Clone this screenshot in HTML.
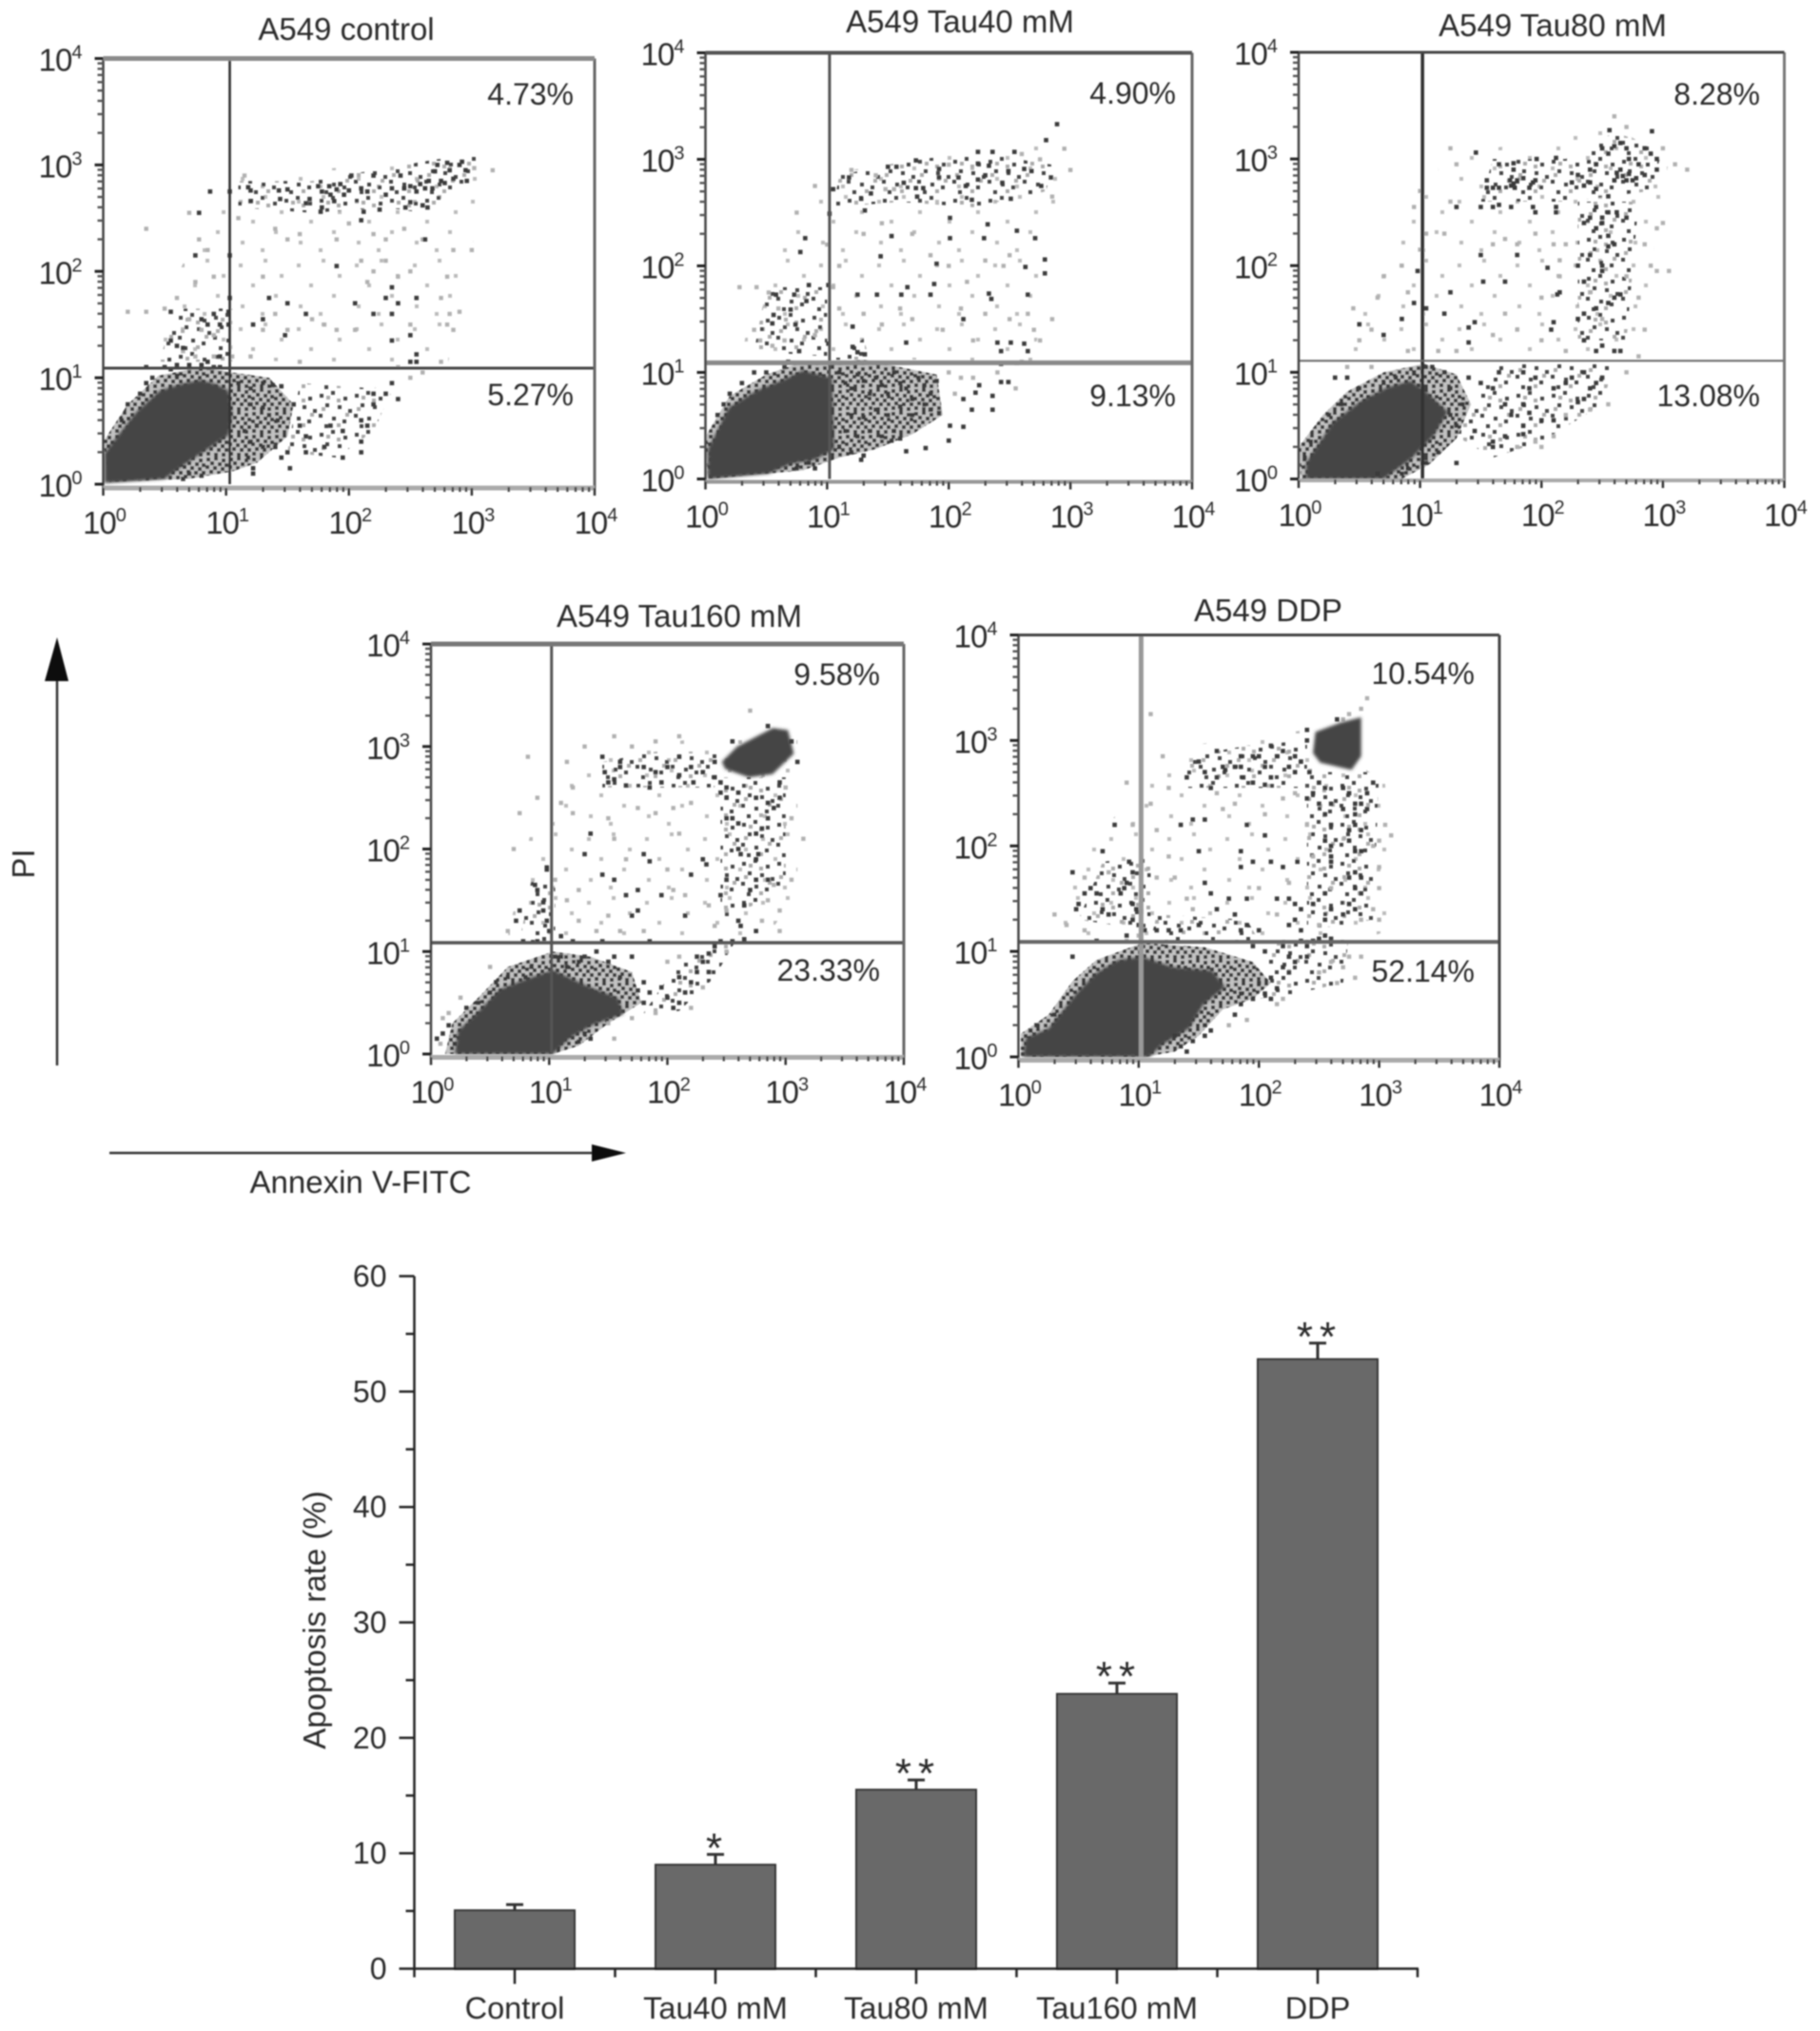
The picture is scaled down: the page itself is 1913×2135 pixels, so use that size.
<!DOCTYPE html>
<html lang="en">
<head>
<meta charset="utf-8">
<title>A549 apoptosis flow cytometry and apoptosis rate</title>
<style>
html,body{margin:0;padding:0;background:#fff;}
svg{display:block;}
text{font-family:"Liberation Sans",Arial,sans-serif;fill:#2b2b2b;}
</style>
</head>
<body>
<svg id="figure" xmlns="http://www.w3.org/2000/svg" width="1913" height="2135" viewBox="0 0 1913 2135">
<defs>
<filter id="soft" x="0" y="0" width="100%" height="100%"><feGaussianBlur stdDeviation="0.7"/></filter>
<filter id="coreEdge" x="-20%" y="-20%" width="140%" height="140%"><feGaussianBlur stdDeviation="1.6"/></filter>
<pattern id="speckleDense" patternUnits="userSpaceOnUse" width="24" height="24">
<rect width="24" height="24" fill="#c2c2c2"/>
<g fill="#3c3c3c"><rect x="1" y="1" width="4" height="4"/><rect x="9" y="0" width="4" height="4"/><rect x="17" y="2" width="4" height="4"/><rect x="5" y="5" width="4" height="4"/><rect x="13" y="6" width="4" height="4"/><rect x="20" y="7" width="4" height="4"/><rect x="0" y="9" width="4" height="4"/><rect x="8" y="10" width="4" height="4"/><rect x="16" y="11" width="4" height="4"/><rect x="4" y="14" width="4" height="4"/><rect x="12" y="15" width="4" height="4"/><rect x="20" y="15" width="4" height="4"/><rect x="1" y="19" width="4" height="4"/><rect x="9" y="20" width="4" height="4"/><rect x="17" y="20" width="4" height="4"/></g>
</pattern>
<pattern id="speckleBand" patternUnits="userSpaceOnUse" width="37" height="41">
<g fill="#454545"><rect x="3" y="4" width="4" height="4"/><rect x="15" y="1" width="4" height="4"/><rect x="28" y="7" width="4" height="4"/><rect x="9" y="14" width="4" height="4"/><rect x="22" y="16" width="4" height="4"/><rect x="33" y="20" width="4" height="4"/><rect x="2" y="25" width="4" height="4"/><rect x="16" y="28" width="4" height="4"/><rect x="27" y="31" width="4" height="4"/><rect x="8" y="36" width="4" height="4"/></g>
<g fill="#aaa"><rect x="10" y="6" width="4" height="4"/><rect x="30" y="24" width="4" height="4"/><rect x="5" y="18" width="4" height="4"/><rect x="21" y="9" width="4" height="4"/><rect x="21" y="35" width="4" height="4"/></g>
</pattern>
<pattern id="speckleSparse" patternUnits="userSpaceOnUse" width="61" height="67">
<g fill="#bbb"><rect x="7" y="9" width="4" height="4"/><rect x="33" y="4" width="4" height="4"/><rect x="50" y="20" width="4" height="4"/><rect x="20" y="30" width="4" height="4"/><rect x="44" y="41" width="4" height="4"/><rect x="9" y="52" width="4" height="4"/><rect x="30" y="60" width="4" height="4"/></g>
</pattern>
</defs>
<rect x="0" y="0" width="1913" height="2135" fill="#fff"/>
<g id="root" filter="url(#soft)">

<g id="panel-1">
<text x="364" y="42" font-size="33" text-anchor="middle">A549 control</text>
<text x="603" y="110" font-size="32" text-anchor="end">4.73%</text>
<text x="603" y="426" font-size="32" text-anchor="end">5.27%</text>
</g>
<g id="panel-2">
<text x="1009" y="34" font-size="33" text-anchor="middle">A549 Tau40 mM</text>
<text x="1236" y="109" font-size="32" text-anchor="end">4.90%</text>
<text x="1236" y="427" font-size="32" text-anchor="end">9.13%</text>
</g>
<g id="panel-3">
<text x="1632" y="38" font-size="33" text-anchor="middle">A549 Tau80 mM</text>
<text x="1850" y="110" font-size="32" text-anchor="end">8.28%</text>
<text x="1850" y="427" font-size="32" text-anchor="end">13.08%</text>
</g>
<g id="panel-4">
<text x="714" y="659" font-size="33" text-anchor="middle">A549 Tau160 mM</text>
<text x="925" y="720" font-size="32" text-anchor="end">9.58%</text>
<text x="925" y="1031" font-size="32" text-anchor="end">23.33%</text>
</g>
<g id="panel-5">
<text x="1333" y="653" font-size="33" text-anchor="middle">A549 DDP</text>
<text x="1550" y="719" font-size="32" text-anchor="end">10.54%</text>
<text x="1550" y="1032" font-size="32" text-anchor="end">52.14%</text>
</g>

<g>
<line x1="60" y1="1120" x2="60" y2="700" stroke="#333" stroke-width="2.5"/>
<polygon points="60,670 47,716 72,716" fill="#111"/>
</g>
<text font-size="33" text-anchor="middle" transform="translate(36 908) rotate(-90)">PI</text>
<g>
<line x1="115" y1="1212" x2="630" y2="1212" stroke="#333" stroke-width="2.5"/>
<polygon points="658,1212 622,1203 622,1221" fill="#111"/>
</g>
<text x="379" y="1254" font-size="33" text-anchor="middle">Annexin V-FITC</text>

<g id="bar-chart">
<text font-size="33" text-anchor="middle" transform="translate(342 1703) rotate(-90)">Apoptosis rate (%)</text>
</g>
</g>
</svg>

<script>
/* ---------- scatter data: [log10 Annexin V, log10 PI] ---------- */
const decadeValues = [0, 1, 2, 3, 4];
const minorMultipliers = [2, 3, 4, 5, 6, 7, 8, 9];

const panel1Gate = [1.03, 1.09];
const panel1Wide = [[0.3,1.2],[2.8,1.1],[3.0,2.2],[3.1,3.0],[2.2,3.0],[1.1,2.9],[0.7,2.2]];
const panel1Bands = [[[1.1,2.6],[1.7,2.55],[2.3,2.6],[2.6,2.55],[3.0,2.8],[3.05,3.1],[2.7,3.05],[2.2,2.95],[1.7,2.85],[1.1,2.85]],[[0.45,1.15],[1.05,1.15],[1.05,1.65],[0.6,1.65]],[[1.5,0.3],[1.6,0.95],[2.2,0.9],[2.4,1.0],[2.2,0.5],[1.9,0.25]]];
const panel1Halo = [[0.05,0.02],[0.0,0.4],[0.2,0.75],[0.45,1.02],[0.8,1.1],[1.05,1.05],[1.35,1.0],[1.55,0.75],[1.5,0.45],[1.25,0.2],[1.05,0.12],[0.7,0.05]];
const panel1Core = [[[0.01,0.29],[0.14,0.49],[0.27,0.68],[0.46,0.88],[0.63,0.94],[0.79,0.98],[0.92,0.94],[1.02,0.88],[1.05,0.65],[1.02,0.46],[0.89,0.36],[0.76,0.26],[0.63,0.16],[0.5,0.05],[0.01,0.01]]];
const panel1Dark = [[1.18,2.79],[1.2,2.76],[1.2,2.66],[1.43,2.76],[1.5,2.77],[1.44,2.68],[1.65,2.64],[1.68,2.68],[1.75,2.8],[1.78,2.75],[1.84,2.8],[1.85,2.72],[1.88,2.66],[1.9,2.77],[1.93,2.82],[1.96,2.72],[2.0,2.76],[2.02,2.9],[2.1,2.78],[2.15,2.75],[2.2,2.9],[2.3,2.72],[2.25,2.58],[2.12,2.56],[2.1,2.48],[1.78,2.6],[1.77,2.56],[2.35,2.78],[2.42,2.9],[2.45,2.78],[2.5,2.8],[2.55,2.75],[2.58,2.82],[2.62,2.78],[2.65,2.85],[2.68,2.78],[2.7,2.94],[2.72,3.0],[2.75,2.85],[2.78,2.83],[2.8,3.02],[2.82,2.95],[2.85,2.87],[2.9,3.0],[2.92,3.03],[2.95,2.95],[2.96,2.85],[2.5,2.65],[2.6,2.62],[2.64,2.6],[2.62,2.3],[2.46,2.6],[1.1,0.95],[1.2,0.9],[1.3,0.95],[1.38,0.93],[1.45,0.92],[1.2,0.75],[1.3,0.72],[1.35,0.65],[1.42,0.6],[1.25,0.55],[1.15,0.5],[1.2,0.4],[1.3,0.35],[1.4,0.35],[1.45,0.25],[1.5,0.3],[1.52,0.15],[1.18,0.25],[1.22,0.15],[1.22,0.1],[0.7,0.1],[0.8,0.08],[0.65,0.05],[0.55,1.08],[0.6,1.02],[0.4,1.0],[0.35,0.95],[0.3,0.85],[0.2,0.75],[0.15,0.6],[1.55,0.75],[1.6,0.55],[1.65,0.45],[1.65,0.3],[1.8,0.35],[1.85,0.55],[1.95,0.5],[1.95,0.25],[2.1,0.4],[2.1,0.6],[2.15,0.55],[2.2,0.75],[2.2,0.85],[2.3,0.85],[2.35,0.95],[2.4,0.8],[2.1,0.3],[0.35,1.1],[0.5,1.1],[0.6,1.12],[0.7,1.12],[0.8,1.12],[0.9,1.1],[0.95,1.1],[0.8,1.55],[0.85,1.5],[0.95,1.5],[1.02,1.5],[1.02,1.62],[1.03,1.75],[1.03,2.15],[1.03,2.75],[0.87,2.75],[0.78,2.55],[0.75,2.15],[0.55,1.35],[0.6,1.3],[0.65,1.28],[0.9,1.6],[0.55,1.62],[0.85,1.15],[0.95,1.2],[1.35,1.75],[1.9,2.05],[2.05,1.7],[2.35,1.6],[2.3,1.75],[2.35,1.85],[2.4,1.7],[2.55,1.75],[2.5,1.15],[2.55,1.15],[2.55,1.22],[2.35,1.35],[2.5,1.4],[1.65,1.6],[2.2,1.6],[1.5,1.7],[1.48,1.4],[1.22,1.5],[1.3,1.55]];
const panel1Light = [[0.7,2.55],[1.15,2.9],[0.35,2.4],[0.78,2.3],[0.85,2.2],[0.9,1.95],[0.75,1.9],[1.3,1.95],[1.1,2.5],[1.4,2.4],[1.5,2.3],[1.6,2.35],[1.9,2.3],[2.0,2.45],[2.2,2.35],[2.3,2.3],[2.45,2.4],[2.6,2.3],[2.5,2.0],[2.2,2.0],[2.1,2.1],[2.3,2.1],[2.15,1.9],[2.4,1.95],[2.85,2.2],[3.0,2.2],[2.8,1.95],[2.75,1.75],[2.82,1.6],[2.9,1.62],[2.8,1.5],[2.85,1.45],[2.5,1.5],[1.7,1.55],[1.4,1.6],[1.3,1.45],[1.5,1.45],[1.9,1.45],[2.05,1.45],[1.8,1.5],[0.2,1.62],[0.35,1.62],[0.5,1.65],[0.6,1.75],[0.7,1.55],[0.8,1.45],[0.9,1.4],[0.55,1.35],[0.65,1.25],[0.75,1.2],[0.9,1.2],[1.05,1.2],[1.2,1.2],[1.6,1.15],[2.4,1.1],[2.6,1.05],[2.5,1.0],[2.75,1.15],[3.02,2.97],[3.17,2.95]];

const panel2Gate = [1.02, 1.09];
const panel2Wide = [[0.3,1.15],[0.4,1.8],[0.9,2.6],[1.2,2.9],[2.0,3.05],[2.9,3.15],[2.9,2.6],[2.75,1.5],[2.7,1.1]];
const panel2Bands = [[[1.05,2.55],[1.6,2.6],[2.2,2.55],[2.8,2.7],[2.85,2.95],[2.3,3.05],[1.7,3.0],[1.1,2.85]],[[0.4,1.2],[1.0,1.15],[1.0,1.8],[0.5,1.8]],[[1.05,1.12],[1.3,1.32],[1.35,1.12]]];
const panel2Halo = [[1.04,1.1],[1.3,1.12],[1.9,0.98],[1.95,0.6],[1.7,0.42],[1.4,0.28],[1.1,0.2],[0.8,0.08],[0.02,0.0],[0.0,0.4],[0.2,0.78],[0.5,0.98],[0.75,1.08]];
const panel2Core = [[[0.02,0.28],[0.19,0.67],[0.42,0.83],[0.64,0.93],[0.8,1.02],[0.93,0.98],[1.04,0.95],[1.06,0.28],[0.9,0.18],[0.7,0.14],[0.52,0.05],[0.02,0.0]]];
const panel2Dark = [[2.89,3.33],[2.8,3.18],[2.24,3.07],[2.36,3.07],[2.54,3.07],[1.73,2.99],[1.5,2.93],[1.57,2.93],[1.92,2.91],[2.24,2.96],[2.33,2.94],[2.49,2.89],[2.62,2.91],[2.68,2.89],[2.84,2.83],[1.63,2.78],[1.73,2.73],[1.79,2.73],[1.74,2.65],[1.92,2.83],[2.08,2.83],[2.14,2.75],[2.19,2.62],[2.24,2.81],[2.3,2.85],[2.44,2.78],[2.51,2.63],[2.76,2.75],[1.05,2.72],[1.28,2.63],[1.36,2.68],[1.18,2.83],[1.02,2.49],[1.31,2.52],[2.01,2.45],[2.32,2.39],[2.56,2.33],[1.53,2.28],[2.01,2.26],[2.29,2.26],[2.71,2.26],[1.44,2.09],[0.82,2.26],[0.78,2.13],[1.9,2.02],[2.63,1.99],[2.79,2.06],[2.79,1.93],[0.58,1.73],[0.73,1.73],[0.85,1.82],[0.83,1.67],[1.01,1.82],[1.25,1.73],[1.41,1.73],[1.61,1.73],[1.85,1.73],[1.66,1.8],[1.88,1.83],[2.33,1.74],[2.35,1.69],[2.65,1.73],[0.7,1.59],[0.56,1.54],[0.55,1.46],[0.74,1.45],[2.12,1.5],[2.4,1.28],[2.51,1.28],[2.62,1.27],[2.43,1.2],[2.65,1.2],[1.65,1.28],[1.21,1.43],[1.01,1.27],[1.25,1.19],[1.31,1.17],[1.21,1.24],[0.77,1.2],[2.43,1.08],[2.56,1.09],[2.43,0.91],[2.49,0.91],[2.25,0.88],[2.36,0.78],[2.22,0.81],[2.12,0.75],[2.36,0.65],[2.19,0.65],[2.01,0.5],[2.12,0.49],[2.0,0.36],[1.65,0.26],[1.81,0.29],[1.53,0.36],[1.28,0.18],[1.1,1.0],[1.15,0.9],[1.2,0.85],[1.25,0.98],[1.3,0.92],[1.35,0.8],[1.4,0.95],[1.45,0.88],[1.5,0.8],[1.55,1.0],[1.6,0.9],[1.65,0.85],[1.7,0.75],[1.75,0.95],[1.8,0.88],[1.85,0.8],[1.9,0.92],[1.85,0.65],[1.8,0.7],[1.7,0.6],[1.6,0.68],[1.5,0.6],[1.4,0.65],[1.3,0.58],[1.2,0.6],[1.15,0.45],[1.25,0.4],[1.35,0.45],[1.45,0.4],[1.55,0.45],[1.6,0.38],[1.92,0.62],[1.1,0.3],[1.2,0.25],[1.3,0.22],[0.9,0.1],[0.75,0.1],[0.85,0.15],[0.4,1.0],[0.3,0.9],[0.2,0.8],[0.15,0.7],[0.1,0.6],[0.5,1.0],[0.65,1.05],[0.68,1.1]];
const panel2Light = [[0.28,1.8],[0.42,1.8],[0.52,1.75],[0.6,1.6],[0.4,1.4],[0.45,1.3],[0.55,1.25],[0.65,1.3],[0.9,1.35],[1.1,1.6],[1.3,1.55],[1.45,1.45],[1.6,1.6],[1.7,1.5],[1.95,1.4],[2.1,1.6],[2.2,1.3],[2.3,1.55],[2.5,1.5],[2.65,1.55],[2.7,1.4],[2.85,1.5],[2.75,1.3],[1.3,2.3],[1.45,2.4],[1.7,2.3],[1.85,2.1],[2.0,2.0],[2.15,1.85],[2.45,2.0],[2.5,2.1],[2.3,2.05],[1.05,1.8],[1.1,2.0],[1.0,2.2],[0.75,2.5],[0.9,2.75],[1.4,2.85],[1.2,2.9],[1.48,2.72],[1.55,2.72],[2.0,2.95],[2.6,3.05],[2.75,3.0],[2.95,3.1],[3.0,2.9],[2.85,2.65],[2.0,1.0],[2.1,0.95],[2.05,0.8],[2.2,0.95],[2.4,1.0],[2.6,1.1],[2.55,0.85]];

const panel3Gate = [1.02, 1.108];
const panel3Wide = [[0.3,1.15],[0.7,2.0],[1.2,3.0],[1.6,3.1],[2.6,3.3],[3.05,3.0],[2.9,2.0],[2.8,1.15]];
const panel3Bands = [[[1.5,2.6],[2.2,2.6],[2.9,2.7],[3.0,3.1],[2.6,3.25],[2.2,3.0],[1.6,3.0]],[[2.3,1.3],[2.7,1.3],[2.8,2.6],[2.3,2.6]],[[1.3,0.4],[1.6,1.08],[2.6,1.08],[2.5,0.7],[2.0,0.35],[1.6,0.2]]];
const panel3Halo = [[0.02,0.0],[0.0,0.3],[0.2,0.6],[0.4,0.82],[0.7,1.0],[1.03,1.08],[1.3,0.98],[1.42,0.7],[1.3,0.38],[1.08,0.14],[0.85,0.0]];
const panel3Core = [[[0.06,0.15],[0.28,0.53],[0.51,0.73],[0.73,0.86],[0.92,0.92],[1.04,0.83],[1.23,0.63],[1.11,0.4],[0.92,0.18],[0.7,0.0],[0.06,0.0]]];
const panel3Dark = [[1.46,3.06],[1.65,2.95],[1.77,2.96],[1.77,2.9],[1.96,3.0],[2.12,3.01],[2.91,3.26],[2.56,3.27],[1.77,2.77],[1.75,2.75],[1.8,2.8],[1.74,2.8],[1.78,2.73],[1.55,2.73],[1.6,2.73],[1.65,2.73],[1.55,2.8],[1.93,2.78],[1.95,2.8],[1.9,2.73],[1.85,2.82],[2.62,2.87],[2.65,2.9],[2.67,2.84],[2.7,2.8],[2.72,2.86],[2.75,2.8],[2.78,2.82],[2.6,2.8],[2.4,2.9],[2.45,2.95],[2.5,3.1],[2.55,3.05],[2.6,3.12],[2.65,3.15],[2.7,3.1],[2.72,3.0],[2.8,2.95],[2.85,3.1],[2.9,3.05],[2.95,3.0],[2.95,2.9],[2.85,2.85],[2.3,2.85],[2.25,2.78],[2.35,2.75],[2.4,2.78],[2.45,2.72],[2.55,2.65],[1.5,2.55],[1.6,2.55],[1.65,2.57],[1.75,2.55],[1.93,2.55],[1.95,2.5],[2.12,2.55],[2.12,2.5],[1.3,2.55],[2.45,2.55],[2.5,2.45],[2.55,2.5],[2.62,2.5],[2.35,2.4],[2.45,2.35],[2.5,2.4],[2.4,2.45],[2.7,2.45],[2.55,2.28],[2.4,2.1],[2.5,2.0],[2.5,1.95],[2.55,2.18],[2.6,2.2],[2.3,2.0],[2.35,1.85],[2.05,1.98],[1.8,2.1],[1.52,1.85],[1.7,1.85],[1.5,2.1],[1.25,1.75],[1.2,1.55],[0.98,1.95],[2.13,1.73],[2.15,1.75],[2.6,1.7],[2.65,1.73],[2.55,1.65],[2.45,1.6],[2.35,1.55],[2.3,1.5],[1.05,1.6],[1.45,1.47],[1.4,1.42],[2.1,1.47],[2.08,1.4],[2.35,1.3],[2.45,1.2],[2.5,1.25],[2.6,1.2],[2.65,1.2],[1.4,1.28],[0.85,1.5],[0.7,1.35],[0.95,1.65],[0.5,1.45],[1.4,0.95],[1.5,0.9],[1.6,0.85],[1.65,1.0],[1.85,1.0],[1.9,0.85],[1.95,0.95],[2.1,0.85],[2.2,0.9],[2.25,0.95],[2.35,1.0],[2.4,0.85],[2.45,0.9],[2.5,0.95],[2.35,0.75],[2.3,0.72],[1.7,0.7],[1.75,0.6],[1.85,0.7],[1.9,0.62],[2.0,0.55],[1.85,0.5],[2.1,0.55],[1.7,0.4],[1.85,0.42],[1.6,0.35],[1.6,0.3],[1.45,0.45],[1.3,0.5],[1.25,0.6],[1.35,0.7],[1.25,0.85],[1.2,1.0],[1.1,1.05],[0.95,1.0],[0.8,0.95],[0.7,0.9],[0.4,0.95],[0.3,0.95],[0.5,0.85],[0.35,0.7],[0.25,0.6],[0.1,0.35],[0.05,0.2],[1.15,0.25],[1.05,0.15],[1.3,0.15],[0.9,0.1],[0.85,0.05],[0.65,0.05]];
const panel3Light = [[0.45,1.6],[0.5,1.3],[0.6,1.4],[0.65,1.7],[0.7,1.9],[0.85,2.0],[0.9,1.75],[1.0,2.15],[1.05,2.3],[1.2,2.3],[1.25,2.6],[1.0,2.7],[0.95,2.55],[1.3,2.95],[1.25,3.1],[1.6,2.2],[1.7,2.25],[1.8,2.2],[1.95,2.3],[2.1,2.2],[2.15,2.05],[2.15,1.9],[2.2,2.2],[2.4,1.75],[2.7,1.9],[2.9,2.0],[2.95,1.95],[3.05,1.95],[2.95,2.35],[3.0,2.4],[2.85,2.2],[2.8,1.7],[2.85,1.4],[1.6,1.35],[1.7,1.55],[1.8,1.4],[2.0,1.7],[2.0,1.3],[2.2,1.2],[2.5,1.5],[2.8,1.15],[2.7,1.0],[2.55,0.7],[2.4,0.65],[2.2,0.6],[2.1,0.4],[1.95,0.35],[2.0,0.3],[1.8,0.3],[3.1,2.95],[3.2,2.9],[3.0,3.1],[2.7,3.3],[2.6,3.4],[0.6,1.05],[0.4,1.05],[0.9,1.2],[1.15,1.2],[1.3,1.2]];

const panel4Gate = [1.02, 1.086];
const panel4Wide = [[0.65,1.15],[0.85,2.2],[1.4,2.95],[2.4,3.1],[3.1,3.2],[3.1,1.6],[2.85,1.15]];
const panel4Bands = [[[1.45,2.6],[2.4,2.6],[2.45,2.95],[1.9,2.95],[1.45,2.85]],[[2.45,1.3],[3.0,1.6],[3.0,2.7],[2.45,2.7]],[[1.8,0.4],[2.1,0.9],[2.6,1.15],[2.4,0.75],[2.1,0.42]],[[0.75,1.1],[1.05,1.1],[1.05,1.7],[0.85,1.7]]];
const panel4Halo = [[0.12,0.0],[0.18,0.3],[0.4,0.55],[0.65,0.85],[1.03,1.0],[1.35,0.95],[1.7,0.8],[1.78,0.5],[1.5,0.3],[1.25,0.08],[1.03,0.0]];
const panel4Core = [[[0.2,0.0],[0.23,0.23],[0.38,0.39],[0.58,0.63],[0.78,0.72],[1.03,0.82],[1.33,0.66],[1.58,0.55],[1.63,0.39],[1.38,0.29],[1.18,0.16],[1.03,0.0]],[[2.46,2.85],[2.59,3.0],[2.89,3.18],[3.02,3.16],[3.07,2.93],[2.89,2.73],[2.69,2.7],[2.49,2.78]]];
const panel4Dark = [[2.4,2.85],[2.45,2.65],[2.5,2.6],[2.55,3.05],[2.85,3.2],[3.05,3.05],[3.1,2.85],[2.95,2.65],[2.6,2.55],[1.47,2.75],[1.6,2.85],[1.6,2.8],[1.8,2.8],[1.85,2.6],[1.9,2.75],[1.95,2.65],[2.1,2.9],[2.2,2.8],[2.22,2.65],[2.3,2.75],[2.1,2.72],[2.0,2.8],[1.5,2.65],[1.45,2.9],[1.55,2.68],[1.65,2.62],[2.4,2.7],[2.45,2.55],[2.5,2.5],[2.5,2.3],[2.55,2.3],[2.6,2.25],[2.75,2.5],[2.85,2.45],[2.9,2.4],[2.95,2.5],[2.75,2.15],[2.8,2.2],[2.85,2.3],[2.6,2.0],[2.62,1.95],[2.75,1.9],[2.77,1.95],[2.7,1.6],[2.75,1.7],[2.85,1.7],[2.65,1.45],[2.6,1.3],[2.62,1.25],[2.75,1.2],[2.5,1.7],[2.45,1.55],[2.3,1.9],[2.33,1.85],[1.8,1.95],[1.85,1.88],[1.75,1.6],[1.65,1.55],[1.55,1.7],[1.45,1.75],[1.75,1.4],[1.7,1.35],[1.3,1.95],[1.35,2.15],[1.95,1.55],[2.15,1.35],[2.2,1.75],[0.88,1.65],[0.9,1.6],[0.95,1.48],[0.95,1.4],[0.98,1.3],[1.0,1.2],[0.98,1.8],[0.98,1.82],[0.75,1.4],[0.72,1.3],[0.78,1.1],[0.9,1.1],[1.1,1.15],[1.2,1.1],[1.45,1.1],[1.85,1.1],[2.25,0.95],[2.35,0.98],[2.4,1.05],[2.45,1.1],[2.55,1.1],[2.65,1.12],[2.3,0.9],[2.35,0.8],[2.25,0.8],[2.2,0.7],[2.1,0.75],[2.15,0.6],[2.0,0.55],[1.95,0.65],[1.85,0.6],[1.8,0.7],[1.75,0.62],[1.8,0.5],[2.05,0.45],[2.1,0.5],[1.7,0.95],[1.6,0.75],[1.55,0.95],[1.5,0.9],[1.4,1.0],[1.3,0.95],[1.25,0.9],[1.1,0.95],[1.15,0.85],[1.05,0.95],[0.85,0.85],[0.8,0.75],[0.65,0.75],[0.55,0.7],[0.5,0.6],[0.4,0.5],[0.3,0.45],[0.15,0.28],[0.1,0.2],[0.05,0.15],[0.2,0.1],[1.3,0.2],[1.25,0.12],[1.35,0.15]];
const panel4Light = [[0.7,2.0],[0.82,2.9],[0.9,2.5],[0.75,2.35],[1.1,2.45],[1.2,2.35],[1.2,2.6],[1.15,2.85],[1.3,3.0],[1.55,3.1],[1.7,3.0],[1.9,3.05],[2.1,3.1],[1.05,1.7],[1.15,1.5],[1.25,1.6],[1.25,1.3],[1.4,1.2],[1.5,1.35],[1.6,1.2],[1.65,1.9],[1.55,2.1],[1.5,2.3],[1.75,2.4],[1.9,2.35],[2.05,2.4],[2.1,2.15],[2.2,2.45],[2.0,1.8],[2.05,1.6],[2.15,1.55],[2.35,1.45],[2.4,1.25],[2.5,1.4],[2.85,1.5],[2.95,1.4],[2.9,1.65],[3.05,1.7],[3.15,2.1],[3.05,2.3],[3.0,2.6],[2.7,3.35],[2.95,1.2],[2.8,1.3],[2.5,1.0],[2.1,0.95],[2.0,0.9],[2.3,0.65],[2.2,0.45],[1.9,0.4],[1.7,0.35],[1.5,0.3],[1.55,0.15],[0.1,0.35],[0.08,0.1],[0.15,0.4],[0.25,0.55],[0.5,0.85],[0.65,1.2],[1.8,1.2]];

const panel5Gate = [1.02, 1.09];
const panel5Wide = [[0.3,1.15],[0.45,1.9],[1.1,2.6],[1.4,2.95],[2.4,3.1],[3.05,2.6],[3.1,1.2],[2.8,1.1]];
const panel5Bands = [[[1.4,2.55],[2.4,2.55],[2.4,3.0],[1.9,2.95],[1.4,2.85]],[[2.4,1.2],[2.95,1.3],[3.0,2.7],[2.4,2.7]],[[2.0,0.55],[2.1,1.1],[2.75,1.15],[2.7,0.7],[2.3,0.6]],[[0.5,1.3],[1.1,1.2],[1.1,1.9],[0.7,1.85]],[[1.1,1.1],[2.0,1.1],[1.9,1.3],[1.15,1.35]]];
const panel5Halo = [[0.02,0.0],[0.02,0.22],[0.25,0.4],[0.45,0.72],[0.65,0.92],[1.03,1.08],[1.55,1.04],[1.95,0.9],[2.1,0.7],[1.95,0.55],[1.7,0.45],[1.5,0.2],[1.3,0.05],[1.05,0.0]];
const panel5Core = [[[0.04,0.0],[0.06,0.18],[0.25,0.27],[0.48,0.6],[0.64,0.79],[0.83,0.92],[1.03,0.95],[1.29,0.85],[1.61,0.82],[1.72,0.66],[1.54,0.5],[1.42,0.27],[1.19,0.11],[1.09,0.0]],[[2.47,3.08],[2.68,3.17],[2.85,3.22],[2.85,2.85],[2.77,2.72],[2.51,2.79],[2.45,2.88]]];
const panel5Dark = [[2.35,2.8],[2.4,3.0],[2.42,2.7],[2.5,2.6],[2.55,2.55],[2.45,2.5],[2.4,2.45],[2.5,2.4],[2.6,2.4],[2.55,2.3],[2.6,2.2],[2.7,2.55],[2.75,2.5],[2.8,2.4],[2.85,2.4],[2.9,2.5],[2.95,2.6],[2.7,2.35],[2.8,2.3],[2.9,2.35],[2.4,3.1],[2.65,3.2],[1.65,2.9],[1.7,2.75],[1.5,2.8],[1.4,2.65],[1.55,2.7],[1.65,2.65],[1.72,2.72],[1.8,2.75],[1.85,2.75],[1.85,2.85],[1.87,2.65],[1.95,2.85],[2.0,2.85],[2.05,2.75],[2.1,2.65],[2.1,2.95],[2.2,2.9],[2.15,2.85],[2.25,2.75],[2.3,2.7],[2.3,2.85],[1.95,2.6],[2.05,2.58],[1.6,2.55],[2.55,2.05],[2.6,2.0],[2.6,1.9],[2.6,1.85],[2.75,2.15],[2.8,2.2],[2.85,2.15],[2.75,2.05],[2.8,1.95],[2.85,1.95],[2.8,1.75],[2.85,1.7],[2.75,1.7],[2.8,1.6],[2.85,1.55],[2.75,1.45],[2.8,1.4],[2.7,1.35],[2.55,1.55],[2.6,1.4],[2.55,1.3],[2.45,1.45],[2.35,1.4],[2.25,1.5],[2.3,1.45],[2.3,1.3],[2.25,1.25],[2.35,1.2],[2.55,1.15],[1.35,2.2],[1.45,2.25],[1.55,2.25],[1.5,1.95],[1.9,2.2],[2.05,2.1],[1.85,1.95],[1.85,1.8],[1.95,1.85],[2.1,1.85],[2.2,1.8],[2.32,1.85],[1.55,1.65],[1.6,1.55],[1.65,1.4],[1.75,1.5],[1.9,1.5],[1.8,1.35],[2.15,1.5],[1.9,1.25],[2.0,1.2],[1.85,1.2],[1.5,1.25],[1.35,1.2],[1.25,1.2],[1.15,1.2],[1.05,1.2],[1.0,1.25],[0.95,1.3],[0.9,1.15],[0.8,2.2],[0.45,1.75],[0.7,1.95],[0.92,1.85],[0.95,1.75],[0.9,1.65],[0.88,1.6],[0.85,1.55],[0.95,1.45],[0.98,1.4],[1.02,1.38],[0.6,1.6],[0.65,1.55],[0.55,1.55],[0.5,1.45],[0.48,1.4],[0.7,1.4],[0.75,1.35],[0.45,0.95],[0.65,1.1],[1.95,1.05],[2.05,1.0],[2.2,1.05],[2.25,0.95],[2.35,1.1],[2.4,1.05],[2.45,1.1],[2.5,1.12],[2.6,1.12],[2.4,0.95],[2.3,0.9],[2.2,0.85],[2.25,0.8],[2.1,0.75],[2.15,0.65],[2.0,0.7],[2.05,0.6],[1.95,0.55],[1.85,0.6],[2.1,0.55],[1.85,0.5],[1.8,0.4],[1.55,0.3],[1.6,0.25],[1.55,0.2],[1.45,0.15],[1.3,0.2],[1.35,0.1],[1.4,0.05],[0.15,0.3],[0.1,0.25],[0.3,0.4]];
const panel5Light = [[0.55,1.7],[0.3,1.35],[0.4,1.25],[0.55,1.2],[0.75,1.75],[0.95,2.2],[0.9,2.6],[1.1,3.25],[1.2,2.85],[1.25,2.55],[1.1,2.4],[1.15,2.15],[1.25,1.9],[1.15,1.7],[1.3,1.7],[1.4,1.5],[1.45,1.4],[1.65,2.5],[1.7,2.35],[1.8,2.4],[2.05,2.3],[2.2,2.45],[2.3,2.5],[2.4,2.2],[2.0,1.6],[2.15,1.35],[2.25,1.65],[2.45,1.9],[2.6,1.6],[2.5,1.25],[2.95,2.0],[3.0,2.05],[3.1,2.1],[3.05,2.2],[3.0,1.8],[3.0,1.6],[2.95,1.4],[3.0,1.3],[2.85,1.3],[2.7,3.2],[2.75,3.25],[2.85,3.3],[2.9,3.4],[2.65,2.8],[2.6,0.9],[2.7,0.85],[2.8,0.75],[2.75,0.95],[2.85,0.95],[2.65,0.7],[2.5,0.8],[2.2,0.55],[2.15,0.5],[1.9,0.35],[1.75,0.3],[0.9,1.1],[1.0,1.15]];

/* ---------- bar chart data ---------- */
const barCategories = ["Control", "Tau40 mM", "Tau80 mM", "Tau160 mM", "DDP"];
const barValues = [5.1, 9.05, 15.55, 23.85, 52.85];
const barErrorTops = [5.55, 9.9, 16.35, 24.75, 54.2];
const barStars = ["", "*", "**", "**", "**"];
const yTickLabels = [0, 10, 20, 30, 40, 50, 60];

/* ---------- layout ---------- */
const panelFrames = [
  {id:"panel-1", left:108.5, right:625, top:61.5, bottom:513, y0:509, vColor:"#333", vWidth:2.6, hColor:"#444", hWidth:3, topColor:"#8a8a8a", topWidth:5, botColor:"#aaa", botWidth:5, sideColor:"#666"},
  {id:"panel-2", left:741.5, right:1253, top:55.5, bottom:506.5, y0:503.5, vColor:"#555", vWidth:3, hColor:"#8a8a8a", hWidth:5, topColor:"#555", topWidth:4, botColor:"#999", botWidth:4, sideColor:"#666"},
  {id:"panel-3", left:1365, right:1875.5, top:55, bottom:505, y0:503.5, vColor:"#333", vWidth:3.6, hColor:"#666", hWidth:2, topColor:"#444", topWidth:3, botColor:"#aaa", botWidth:4, sideColor:"#777"},
  {id:"panel-4", left:453, right:950, top:677, bottom:1111.5, y0:1108, vColor:"#555", vWidth:3, hColor:"#555", hWidth:3.5, topColor:"#777", topWidth:5, botColor:"#aaa", botWidth:5, sideColor:"#666"},
  {id:"panel-5", left:1070.5, right:1576, top:667.5, bottom:1114.5, y0:1111, vColor:"#999", vWidth:5, hColor:"#666", hWidth:4, topColor:"#444", topWidth:3, botColor:"#aaa", botWidth:5, sideColor:"#444"}
];
const panelDatasets = [
  {gate:panel1Gate, wide:panel1Wide, bands:panel1Bands, halo:panel1Halo, core:panel1Core, dark:panel1Dark, light:panel1Light},
  {gate:panel2Gate, wide:panel2Wide, bands:panel2Bands, halo:panel2Halo, core:panel2Core, dark:panel2Dark, light:panel2Light},
  {gate:panel3Gate, wide:panel3Wide, bands:panel3Bands, halo:panel3Halo, core:panel3Core, dark:panel3Dark, light:panel3Light},
  {gate:panel4Gate, wide:panel4Wide, bands:panel4Bands, halo:panel4Halo, core:panel4Core, dark:panel4Dark, light:panel4Light},
  {gate:panel5Gate, wide:panel5Wide, bands:panel5Bands, halo:panel5Halo, core:panel5Core, dark:panel5Dark, light:panel5Light}
];

const NS = "http://www.w3.org/2000/svg";
function make(parent, tag, geometry) {
  const node = document.createElementNS(NS, tag);
  for (const key in geometry) node.setAttribute(key, geometry[key]);
  parent.appendChild(node);
  return node;
}

function powerLabel(parent, x, y, exponent, anchor) {
  const label = make(parent, "text", {x:x, y:y, "font-size":33, "text-anchor":anchor, "letter-spacing":-1});
  const base = document.createElementNS(NS, "tspan");
  base.textContent = "10";
  label.appendChild(base);
  const sup = document.createElementNS(NS, "tspan");
  sup.setAttribute("dy", -13);
  sup.setAttribute("font-size", 20);
  sup.textContent = String(exponent);
  label.appendChild(sup);
  return label;
}

panelFrames.forEach(function (frame, index) {
  const data = panelDatasets[index];
  const holder = document.getElementById(frame.id);
  const sx = function (v) { return frame.left + (frame.right - frame.left) * v / 4; };
  const sy = function (v) { return frame.y0 + (frame.top - frame.y0) * v / 4; };
  const toPoints = function (poly) { return poly.map(function (p) { return sx(p[0]).toFixed(1) + "," + sy(p[1]).toFixed(1); }).join(" "); };

  const wide = make(holder, "polygon", {points:toPoints(data.wide), fill:"url(#speckleSparse)"});
  
  

  data.bands.forEach(function (poly) {
    const band = make(holder, "polygon", {points:toPoints(poly), fill:"url(#speckleBand)"});
    
    
  });

  const halo = make(holder, "polygon", {points:toPoints(data.halo), fill:"url(#speckleDense)"});
  
  

  data.light.forEach(function (p) {
    const dot = make(holder, "rect", {x:sx(p[0]) - 2.2, y:sy(p[1]) - 2.2, width:4.4, height:4.4, fill:"#b0b0b0"});
    
    
  });

  data.core.forEach(function (poly) {
    const core = make(holder, "polygon", {points:toPoints(poly), fill:"#444", filter:"url(#coreEdge)"});
    
    
  });

  data.dark.forEach(function (p) {
    const dot = make(holder, "rect", {x:sx(p[0]) - 2.3, y:sy(p[1]) - 2.3, width:4.6, height:4.6, fill:"#3a3a3a"});
    
    
  });

  const gateV = make(holder, "line", {x1:sx(data.gate[0]), x2:sx(data.gate[0]), y1:frame.top, y2:frame.y0, stroke:frame.vColor, "stroke-width":frame.vWidth});
  
  
  const gateH = make(holder, "line", {x1:frame.left, x2:frame.right, y1:sy(data.gate[1]), y2:sy(data.gate[1]), stroke:frame.hColor, "stroke-width":frame.hWidth});
  
  

  const leftEdge = make(holder, "line", {x1:frame.left, x2:frame.left, y1:frame.top, y2:frame.bottom, stroke:"#444", "stroke-width":2.5});
  
  
  const rightEdge = make(holder, "line", {x1:frame.right, x2:frame.right, y1:frame.top, y2:frame.bottom, stroke:frame.sideColor, "stroke-width":3});
  
  
  const topEdge = make(holder, "line", {x1:frame.left, x2:frame.right, y1:frame.top, y2:frame.top, stroke:frame.topColor, "stroke-width":frame.topWidth});
  
  
  const botEdge = make(holder, "line", {x1:frame.left, x2:frame.right, y1:frame.bottom, y2:frame.bottom, stroke:frame.botColor, "stroke-width":frame.botWidth});
  
  

  decadeValues.forEach(function (d) {
    const major = make(holder, "line", {x1:frame.left - 9, x2:frame.left, y1:sy(d), y2:sy(d), stroke:"#222", "stroke-width":3});
    
    
    const majorX = make(holder, "line", {x1:sx(d), x2:sx(d), y1:frame.bottom, y2:frame.bottom + 8, stroke:"#333", "stroke-width":2.5});
    
    
    const yLabel = powerLabel(holder, frame.left - 23, sy(d) + 13, d, "end");
    
    
    const xLabel = powerLabel(holder, sx(d) + 1, frame.bottom + 48, d, "middle");
    
    
    if (d < 4) {
      minorMultipliers.forEach(function (m) {
        const pos = d + Math.log10(m);
        const minorY = make(holder, "line", {x1:frame.left - 6, x2:frame.left, y1:sy(pos), y2:sy(pos), stroke:"#555", "stroke-width":2.4});
        
        
        const minorX = make(holder, "line", {x1:sx(pos), x2:sx(pos), y1:frame.bottom - 1, y2:frame.bottom + 4, stroke:"#444", "stroke-width":2.4});
        
        
      });
    }
  });
});

/* ---------- bar chart ---------- */
(function () {
  const holder = document.getElementById("bar-chart");
  const axisX = 435.5, axisY = 2069.5, topY = 1341.5, axisEnd = 1490;
  const firstCenter = 541, step = 211, barWidth = 126;
  const yScale = function (v) { return axisY + (topY - axisY) * v / 60; };
  const xCenter = function (i) { return firstCenter + step * i; };

  barCategories.forEach(function (name, i) {
    const cx = xCenter(i);
    const stem = make(holder, "line", {x1:cx, x2:cx, y1:yScale(barValues[i]), y2:yScale(barErrorTops[i]), stroke:"#333", "stroke-width":3});
    
    
    const cap = make(holder, "line", {x1:cx - 9, x2:cx + 9, y1:yScale(barErrorTops[i]), y2:yScale(barErrorTops[i]), stroke:"#333", "stroke-width":3});
    
    
    const bar = make(holder, "rect", {x:cx - barWidth / 2, y:yScale(barValues[i]) + 0.5, width:barWidth, height:axisY - yScale(barValues[i]), fill:"#696969", stroke:"#333", "stroke-width":2});
    
    
    if (barStars[i]) {
      const star = make(holder, "text", {x:cx + 2, y:yScale(barErrorTops[i]) + 8, "font-size":44, "text-anchor":"middle", "letter-spacing":7});
      
      
      star.textContent = barStars[i];
    }
    const major = make(holder, "line", {x1:cx, x2:cx, y1:axisY, y2:axisY + 16, stroke:"#222", "stroke-width":2.5});
    
    
    const minor = make(holder, "line", {x1:cx - step / 2, x2:cx - step / 2, y1:axisY, y2:axisY + 9, stroke:"#222", "stroke-width":2.5});
    
    
    const label = make(holder, "text", {x:cx, y:2122, "font-size":32.5, "text-anchor":"middle"});
    
    
    label.textContent = name;
  });

  const lastMinor = make(holder, "line", {x1:axisEnd, x2:axisEnd, y1:axisY, y2:axisY + 9, stroke:"#222", "stroke-width":2.5});
  
  

  yTickLabels.forEach(function (value, i) {
    const y = yScale(value);
    const tick = make(holder, "line", {x1:axisX - 16, x2:axisX, y1:y, y2:y, stroke:"#222", "stroke-width":2.5});
    
    
    const label = make(holder, "text", {x:axisX - 29, y:y + 11, "font-size":32, "text-anchor":"end"});
    
    
    label.textContent = String(value);
    if (i < yTickLabels.length - 1) {
      const midY = yScale((value + yTickLabels[i + 1]) / 2);
      const minor = make(holder, "line", {x1:axisX - 9, x2:axisX, y1:midY, y2:midY, stroke:"#222", "stroke-width":2.5});
      
      
    }
  });

  const yAxis = make(holder, "line", {x1:axisX, x2:axisX, y1:topY, y2:axisY + 1, stroke:"#222", "stroke-width":2.5});
  
  
  const xAxis = make(holder, "line", {x1:axisX, x2:axisEnd + 1, y1:axisY, y2:axisY, stroke:"#222", "stroke-width":2.5});
  
  
})();
</script>
</body>
</html>
